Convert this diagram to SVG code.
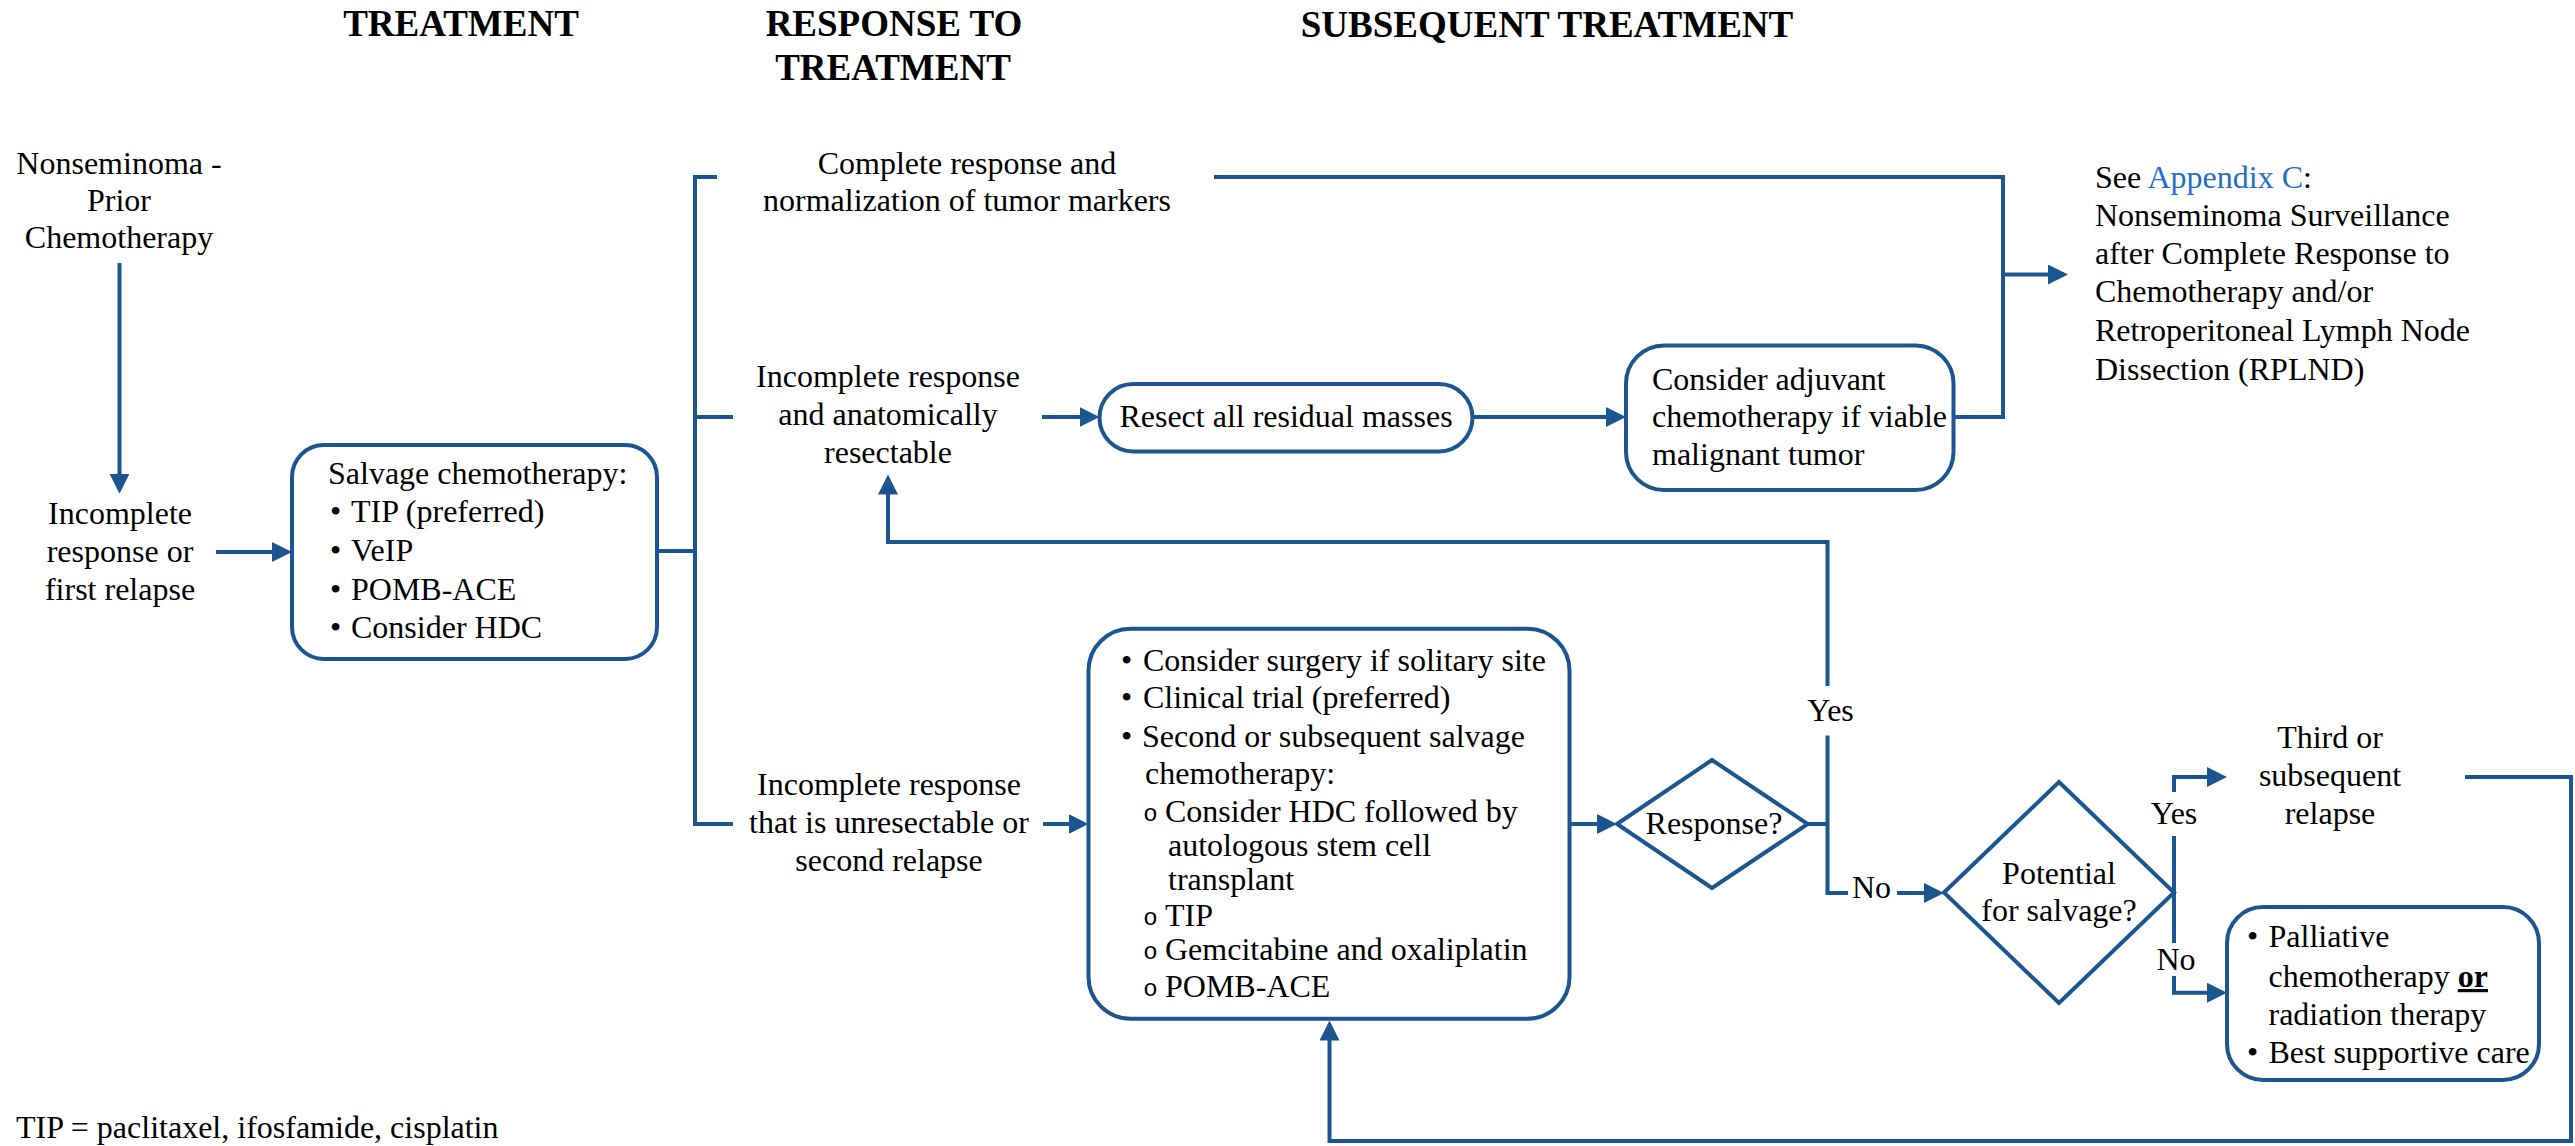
<svg xmlns="http://www.w3.org/2000/svg" width="2575" height="1146" viewBox="0 0 2575 1146">
<defs>
<style>
text{font-family:"Liberation Serif","Times New Roman",serif;font-size:32px;fill:#000}
.h{font-weight:bold;font-size:37px;text-anchor:middle}
.c{text-anchor:middle}
.box{fill:#fff;stroke:#1c5690;stroke-width:4}
.ln{fill:none;stroke:#1c5690;stroke-width:4}
.arr{marker-end:url(#ah)}
.sub{font-family:"Liberation Mono","Courier New",monospace;font-size:24px;text-anchor:middle}
.link{fill:#1f6fc5}
</style>
<marker id="ah" markerUnits="userSpaceOnUse" markerWidth="22" markerHeight="22" refX="16" refY="10" orient="auto">
<path d="M0,0 L20,10 L0,20 z" fill="#1c5690"/>
</marker>
</defs>
<rect width="2575" height="1146" fill="#fff"/>

<g id="headers">
<text class="h" x="461" y="36">TREATMENT</text>
<text class="h" x="894" y="36">RESPONSE TO</text>
<text class="h" x="893" y="80">TREATMENT</text>
<text class="h" x="1547" y="37">SUBSEQUENT TREATMENT</text>
</g>

<g id="connectors">
<path class="ln arr" d="M119.5,263 V489.7"/>
<path class="ln arr" d="M216,552 H288"/>
<path class="ln" d="M657,551 H695"/>
<path class="ln" d="M717,177 H695 V824 H733"/>
<path class="ln" d="M695,417 H733"/>
<path class="ln" d="M1214,177 H2003 V417 H1954"/>
<path class="ln arr" d="M2003,274.5 H2064"/>
<path class="ln arr" d="M1042,417 H1095.5"/>
<path class="ln arr" d="M1473,417 H1622"/>
<path class="ln arr" d="M1043,824 H1084.5"/>
<path class="ln arr" d="M1569.5,824 H1613"/>
<path class="ln" d="M1808,824 H1827.5"/>
<path class="ln arr" d="M1827.5,686 V542 H888 V478.5"/>
<path class="ln" d="M1827.5,735.5 V893 H1848"/>
<path class="ln arr" d="M1897,893 H1940"/>
<path class="ln" d="M2174,892.5 V836"/>
<path class="ln arr" d="M2174,792 V777 H2223"/>
<path class="ln" d="M2174,892.5 V943"/>
<path class="ln arr" d="M2174,976 V992.7 H2223"/>
<path class="ln arr" d="M2465,777 H2571 V1141 H1329.5 V1024.5"/>
<text class="c" x="1830.5" y="721">Yes</text>
<text x="1852" y="898">No</text>
<text class="c" x="2174" y="824">Yes</text>
<text class="c" x="2176" y="970">No</text>
</g>

<g id="n_start">
<text class="c" x="119" y="174">Nonseminoma -</text>
<text class="c" x="119" y="211">Prior</text>
<text class="c" x="119" y="248">Chemotherapy</text>
</g>

<g id="n_incomplete">
<text class="c" x="120" y="524">Incomplete</text>
<text class="c" x="120" y="562">response or</text>
<text class="c" x="120" y="600">first relapse</text>
</g>

<g id="n_salvage">
<rect class="box" x="292" y="445" width="365" height="214" rx="32"/>
<text x="328" y="484">Salvage chemotherapy:</text>
<text x="330" y="522">•</text><text x="351" y="522">TIP (preferred)</text>
<text x="330" y="561">•</text><text x="351" y="561">VeIP</text>
<text x="330" y="600">•</text><text x="351" y="600">POMB-ACE</text>
<text x="330" y="638">•</text><text x="351" y="638">Consider HDC</text>
</g>

<g id="n_complete">
<text class="c" x="967" y="174">Complete response and</text>
<text class="c" x="967" y="211">normalization of tumor markers</text>
</g>

<g id="n_resectable">
<text class="c" x="888" y="387">Incomplete response</text>
<text class="c" x="888" y="425">and anatomically</text>
<text class="c" x="888" y="463">resectable</text>
</g>

<g id="n_resect">
<rect class="box" x="1099.5" y="384" width="373" height="67.5" rx="33.75"/>
<text class="c" x="1286" y="427">Resect all residual masses</text>
</g>

<g id="n_adjuvant">
<rect class="box" x="1626" y="345.5" width="327.5" height="144.5" rx="38"/>
<text x="1652" y="390">Consider adjuvant</text>
<text x="1652" y="427">chemotherapy if viable</text>
<text x="1652" y="465">malignant tumor</text>
</g>

<g id="n_appendix">
<text x="2095" y="188">See <tspan class="link">Appendix C</tspan>:</text>
<text x="2095" y="226">Nonseminoma Surveillance</text>
<text x="2095" y="264">after Complete Response to</text>
<text x="2095" y="302">Chemotherapy and/or</text>
<text x="2095" y="341">Retroperitoneal Lymph Node</text>
<text x="2095" y="380">Dissection (RPLND)</text>
</g>

<g id="n_unresectable">
<text class="c" x="889" y="795">Incomplete response</text>
<text class="c" x="889" y="833">that is unresectable or</text>
<text class="c" x="889" y="871">second relapse</text>
</g>

<g id="n_options">
<rect class="box" x="1088.5" y="628.7" width="481" height="390" rx="42"/>
<text x="1121" y="671">•</text><text x="1143" y="671">Consider surgery if solitary site</text>
<text x="1121" y="708">•</text><text x="1143" y="708">Clinical trial (preferred)</text>
<text x="1121" y="747">•</text><text x="1142" y="747">Second or subsequent salvage</text>
<text x="1145" y="784">chemotherapy:</text>
<text class="sub" x="1150.5" y="821">o</text><text x="1165" y="822">Consider HDC followed by</text>
<text x="1168" y="856">autologous stem cell</text>
<text x="1168" y="890">transplant</text>
<text class="sub" x="1150.5" y="925">o</text><text x="1165" y="926">TIP</text>
<text class="sub" x="1150.5" y="959">o</text><text x="1165" y="960">Gemcitabine and oxaliplatin</text>
<text class="sub" x="1150.5" y="996">o</text><text x="1165" y="997">POMB-ACE</text>
</g>

<g id="n_response">
<polygon class="box" points="1617,824 1712,760 1807.7,824 1712,888"/>
<text class="c" x="1714" y="834">Response?</text>
</g>

<g id="n_potential">
<polygon class="box" points="1944,892.5 2059,782 2174,892.5 2059,1003"/>
<text class="c" x="2059" y="884">Potential</text>
<text class="c" x="2059" y="921">for salvage?</text>
</g>

<g id="n_third">
<text class="c" x="2330" y="748">Third or</text>
<text class="c" x="2330" y="786">subsequent</text>
<text class="c" x="2330" y="824">relapse</text>
</g>

<g id="n_palliative">
<rect class="box" x="2227" y="907" width="312" height="173" rx="36"/>
<text x="2247" y="947">•</text><text x="2268.5" y="947">Palliative</text>
<text x="2268.5" y="987">chemotherapy <tspan font-weight="bold" text-decoration="underline">or</tspan></text>
<text x="2268.5" y="1025">radiation therapy</text>
<text x="2247" y="1063">•</text><text x="2268.5" y="1063">Best supportive care</text>
</g>

<g id="footnote">
<text x="16" y="1138" font-size="27">TIP = paclitaxel, ifosfamide, cisplatin</text>
</g>
</svg>
